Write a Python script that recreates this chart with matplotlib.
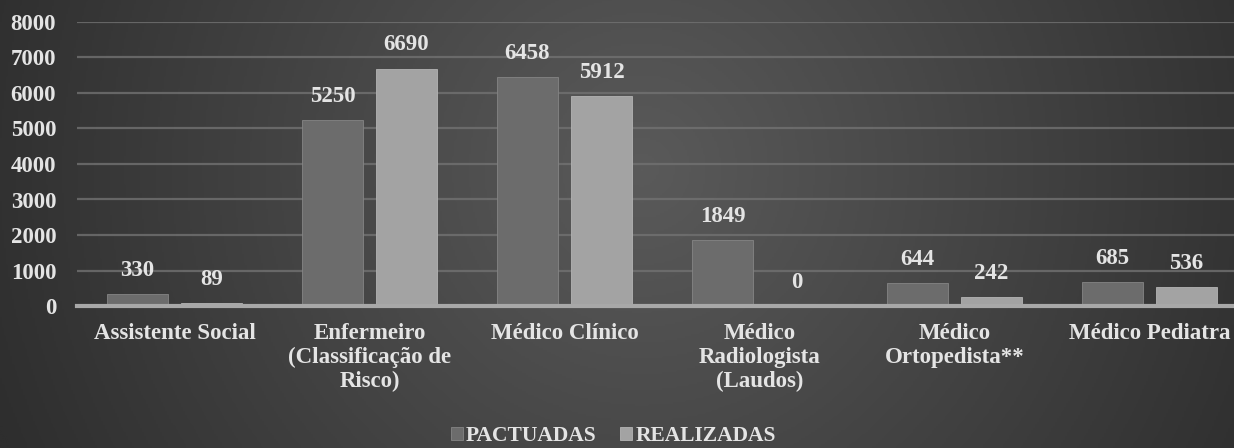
import numpy as np
import matplotlib
matplotlib.use("Agg")
import matplotlib.pyplot as plt
from matplotlib.colors import LinearSegmentedColormap

# data
categories = ["Assistente Social", "Enfermeiro\n(Classificação de\nRisco)", "Médico Clínico",
              "Médico\nRadiologista\n(Laudos)", "Médico\nOrtopedista**", "Médico Pediatra"]
pactuadas = [330, 5250, 6458, 1849, 644, 685]
realizadas = [89, 6690, 5912, 0, 242, 536]
series_names = ["PACTUADAS", "REALIZADAS"]
yticks = [0, 1000, 2000, 3000, 4000, 5000, 6000, 7000, 8000]

plt.rcParams['font.family'] = ['Liberation Serif', 'DejaVu Serif']
plt.rcParams['font.weight'] = 'bold'
TXT = '#e4e4e4'

fig = plt.figure(figsize=(12.34, 4.48), dpi=100)

# radial gradient background
bg = fig.add_axes([0, 0, 1, 1], zorder=-10)
gx, gy = np.meshgrid(np.linspace(0, 1, 600), np.linspace(0, 1, 220))
r = np.sqrt((gx - 0.52) ** 2 + ((gy - 0.62) * 0.363) ** 2)
bg_cmap = LinearSegmentedColormap.from_list('bg', ['#5a5a5a', '#2e2e2e'])
bg.imshow(r, cmap=bg_cmap, vmin=0.0, vmax=0.56, aspect='auto', extent=[0, 1, 0, 1],
          origin='lower')
bg.axis('off')

ax = fig.add_axes([77 / 1234, 142 / 448, 1170 / 1234, 284 / 448])
ax.patch.set_alpha(0)

x = np.arange(len(categories))
w = 0.31
off = 0.19
b1 = ax.bar(x - off, pactuadas, w, color='#6c6c6c', edgecolor='#858585', linewidth=0.6,
            label=series_names[0], zorder=3)
b2 = ax.bar(x + off, realizadas, w, color='#a3a3a3', edgecolor='#b4b4b4', linewidth=0.6,
            label=series_names[1], zorder=3)

for bars, vals in ((b1, pactuadas), (b2, realizadas)):
    for rect, v in zip(bars, vals):
        ax.annotate(f"{v}", (rect.get_x() + rect.get_width() / 2, v),
                    xytext=(0, 17), textcoords='offset points', ha='center', va='center',
                    fontsize=16.5, fontweight='bold', color=TXT)

ax.set_xlim(-0.5, len(categories) - 0.5)
ax.set_ylim(0, 8000)
ax.set_yticks(yticks)
ax.set_yticklabels([str(t) for t in yticks], fontsize=16.5, fontweight='bold', color=TXT)
ax.set_xticks(x)
ax.set_xticklabels(categories, fontsize=16.5, fontweight='bold', color=TXT, linespacing=1.2)
ax.tick_params(axis='both', length=0)
ax.tick_params(axis='y', pad=15)
ax.tick_params(axis='x', pad=12)

ax.yaxis.grid(True, color='#727272', linewidth=1.6, alpha=0.8, zorder=0)
ax.set_axisbelow(True)
for s in ['top', 'right', 'left']:
    ax.spines[s].set_visible(False)
ax.spines['bottom'].set_color('#a8a8a8')
ax.spines['bottom'].set_linewidth(3)
ax.spines['bottom'].set_zorder(4)

leg = fig.legend(handles=[b1, b2], labels=series_names, loc='center', bbox_to_anchor=(0.497, 0.027),
                 ncol=2, frameon=False, fontsize=15.5, handlelength=0.55, handleheight=0.55,
                 handletextpad=0.15, columnspacing=1.1)
for t in leg.get_texts():
    t.set_color(TXT)
    t.set_fontweight('bold')

fig.savefig("out.png", dpi=100)
